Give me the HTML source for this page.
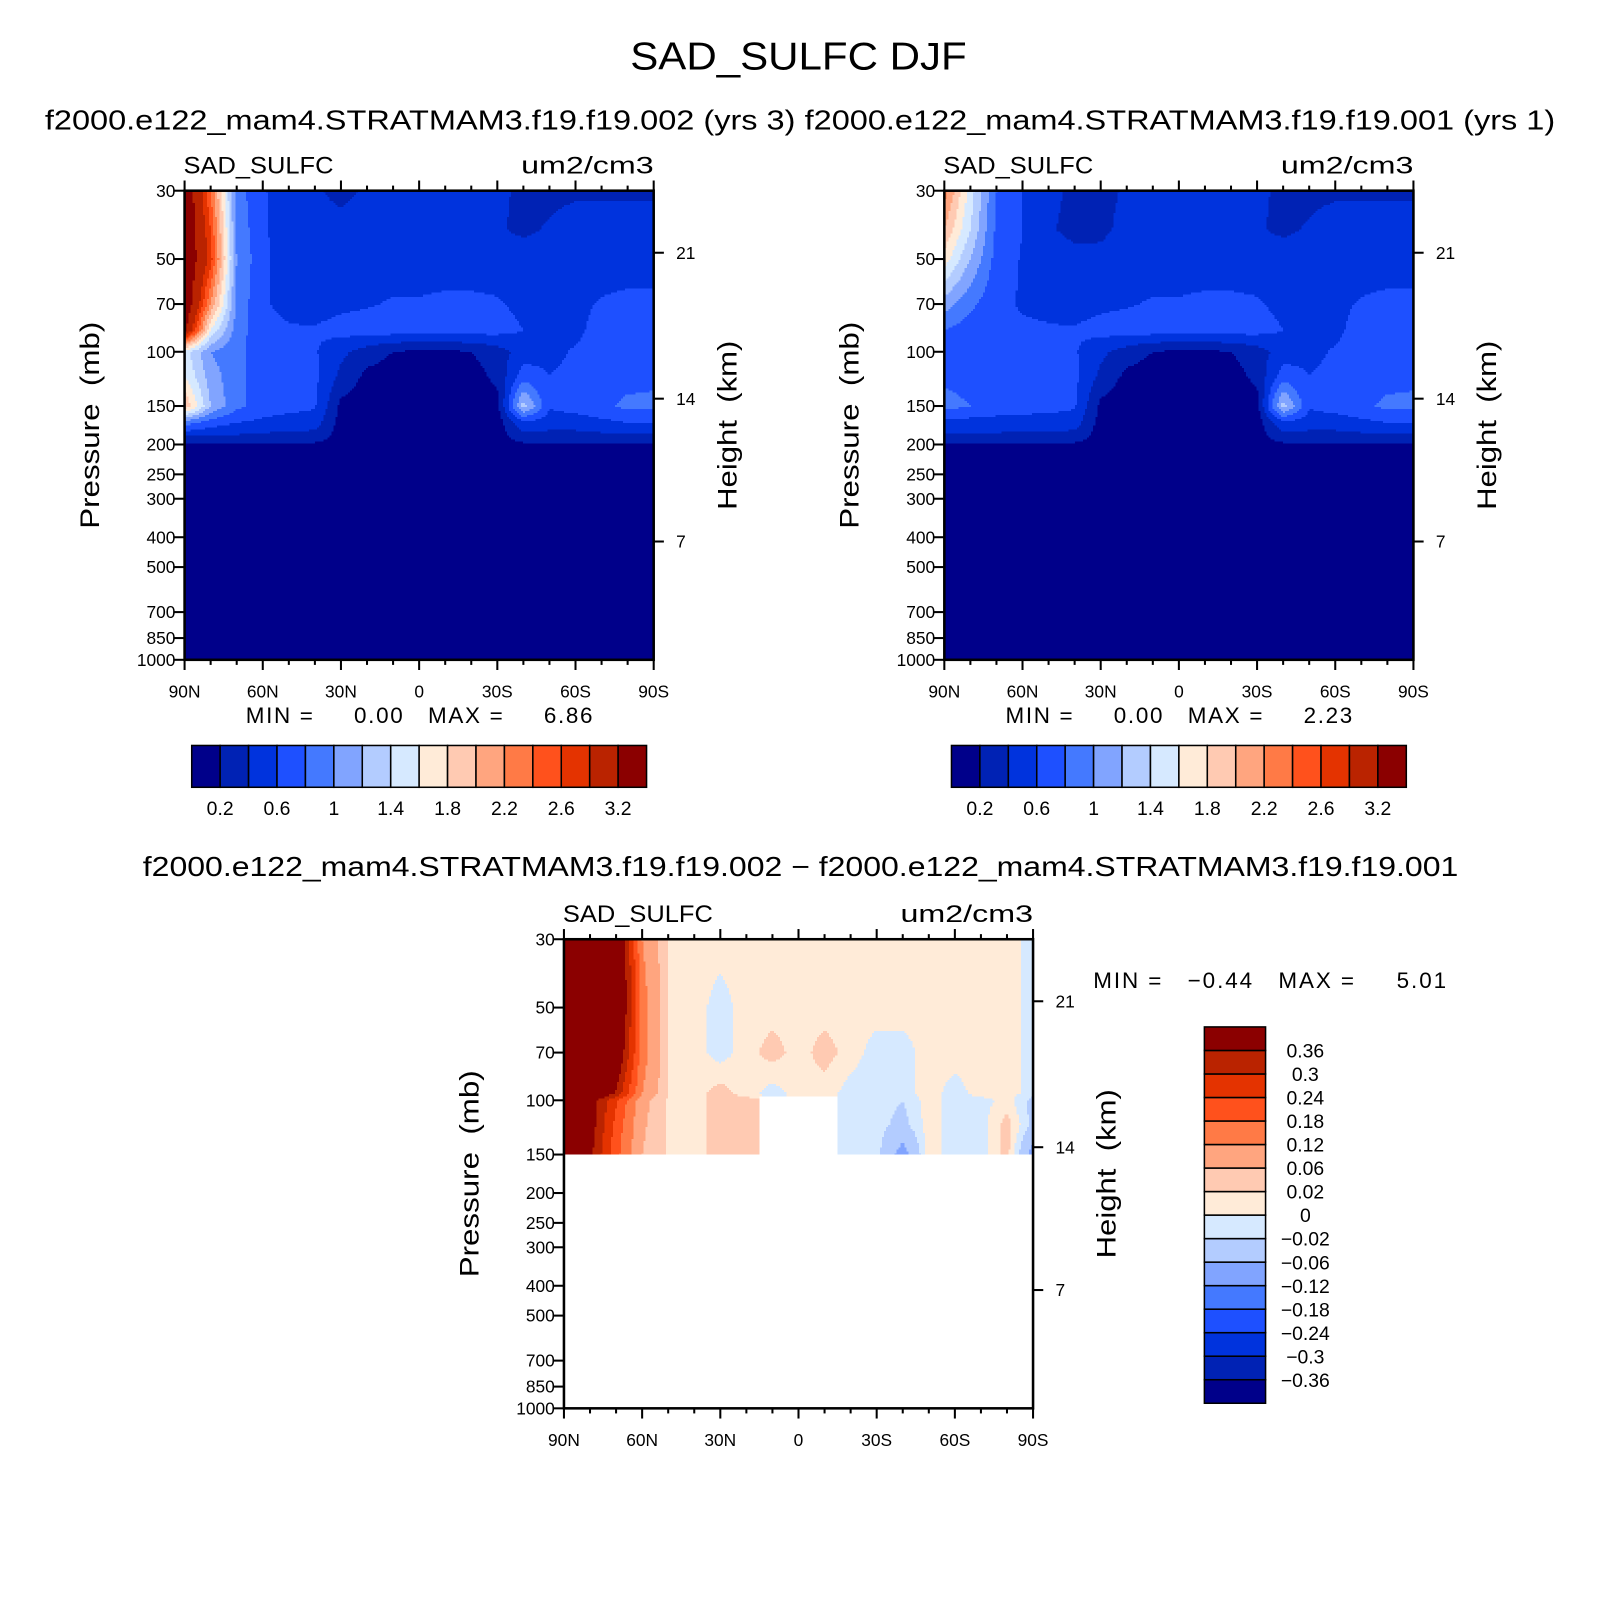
<!DOCTYPE html>
<html><head><meta charset="utf-8"><title>SAD_SULFC DJF</title>
<style>
html,body{margin:0;padding:0;background:#fff}
svg{display:block}
text{font-family:"Liberation Sans","DejaVu Sans",sans-serif;fill:#000;white-space:pre}
</style></head>
<body>
<svg id="fig" xmlns="http://www.w3.org/2000/svg" width="1597" height="1597" viewBox="0 0 1566 1566">
<rect width="1566" height="1566" fill="#fff"/>
<text x="783" y="68" font-size="38" text-anchor="middle" textLength="330" lengthAdjust="spacingAndGlyphs">SAD_SULFC DJF</text>
<text x="412" y="127" font-size="27" text-anchor="middle" textLength="736" lengthAdjust="spacingAndGlyphs">f2000.e122_mam4.STRATMAM3.f19.f19.002 (yrs 3)</text>
<text x="1157" y="127" font-size="27" text-anchor="middle" textLength="736" lengthAdjust="spacingAndGlyphs">f2000.e122_mam4.STRATMAM3.f19.f19.001 (yrs 1)</text>
<text x="785" y="859" font-size="27" text-anchor="middle" textLength="1290" lengthAdjust="spacingAndGlyphs">f2000.e122_mam4.STRATMAM3.f19.f19.002 − f2000.e122_mam4.STRATMAM3.f19.f19.001</text>
</svg>
<script>
// ---------- data ----------
const lats = [90,80,70,60,50,40,30,20,10,0,-10,-20,-30,-40,-50,-60,-70,-80,-90];
const levels = [30,40,50,70,85,100,120,150,170,190,205,1000];
const p1_30  = [3.6,2.4,0.9,0.62,0.5,0.42,0.36,0.42,0.5,0.5,0.5,0.5,0.45,0.35,0.35,0.36,0.36,0.36,0.36];
const p1_40  = [3.6,2.6,0.95,0.63,0.5,0.45,0.45,0.5,0.5,0.5,0.5,0.5,0.42,0.36,0.42,0.5,0.5,0.5,0.5];
const p1_50  = [3.6,2.7,1.0,0.64,0.5,0.5,0.5,0.5,0.5,0.5,0.5,0.5,0.5,0.5,0.5,0.5,0.5,0.5,0.5];
const p1_70  = [3.6,2.2,0.95,0.62,0.55,0.5,0.55,0.58,0.62,0.62,0.64,0.64,0.62,0.55,0.5,0.55,0.62,0.65,0.65];
const p1_85  = [3.3,1.6,0.9,0.65,0.62,0.62,0.68,0.7,0.7,0.7,0.7,0.7,0.68,0.6,0.55,0.55,0.68,0.7,0.7];
const p1_100 = [1.5,1.0,0.85,0.7,0.66,0.62,0.45,0.3,0.2,0.15,0.15,0.2,0.3,0.5,0.55,0.62,0.7,0.7,0.7];
const p1_120 = [1.6,1.1,0.85,0.72,0.7,0.65,0.35,0.15,0.1,0.08,0.08,0.12,0.25,0.7,0.6,0.65,0.7,0.72,0.75];
const p1_150 = [2.0,1.2,0.85,0.72,0.68,0.62,0.15,0.08,0.06,0.05,0.05,0.06,0.12,1.3,0.62,0.68,0.75,0.85,0.85];
const p1_170 = [0.9,0.7,0.6,0.55,0.5,0.5,0.12,0.06,0.05,0.05,0.05,0.05,0.1,0.55,0.5,0.5,0.55,0.6,0.6];
const p1_190 = [0.35,0.35,0.35,0.33,0.32,0.3,0.1,0.05,0.05,0.05,0.05,0.05,0.1,0.3,0.3,0.3,0.32,0.33,0.33];
const p1_205 = [0.1,0.1,0.1,0.1,0.1,0.1,0.08,0.05,0.05,0.05,0.05,0.05,0.08,0.1,0.1,0.1,0.1,0.1,0.1];
const p1_1000= [0.05,0.05,0.05,0.05,0.05,0.05,0.05,0.05,0.05,0.05,0.05,0.05,0.05,0.05,0.05,0.05,0.05,0.05,0.05];

const p2_30  = [2.3,1.5,0.8,0.6,0.45,0.36,0.35,0.42,0.5,0.5,0.5,0.5,0.45,0.35,0.35,0.36,0.36,0.36,0.36];
const p2_40  = [2.0,1.4,0.75,0.6,0.42,0.35,0.36,0.45,0.5,0.5,0.5,0.5,0.42,0.36,0.42,0.5,0.5,0.5,0.5];
const p2_50  = [1.7,1.2,0.72,0.58,0.5,0.45,0.45,0.5,0.5,0.5,0.5,0.5,0.5,0.5,0.5,0.5,0.5,0.5,0.5];
const p2_70  = [1.1,0.85,0.65,0.58,0.55,0.5,0.55,0.58,0.62,0.62,0.64,0.64,0.62,0.55,0.5,0.55,0.62,0.65,0.65];
const p2_85  = [0.8,0.7,0.64,0.63,0.62,0.62,0.68,0.7,0.7,0.7,0.7,0.7,0.68,0.6,0.55,0.55,0.68,0.7,0.7];
const p2_100 = [0.72,0.7,0.68,0.66,0.65,0.62,0.45,0.3,0.2,0.15,0.15,0.2,0.3,0.5,0.55,0.62,0.7,0.7,0.7];
const p2_120 = [0.75,0.72,0.7,0.7,0.7,0.65,0.35,0.15,0.1,0.08,0.08,0.12,0.25,0.7,0.6,0.65,0.7,0.72,0.75];
const p2_150 = [0.88,0.8,0.75,0.7,0.68,0.62,0.15,0.08,0.06,0.05,0.05,0.06,0.12,1.3,0.62,0.68,0.75,0.85,0.85];
const p2_170 = [0.55,0.52,0.5,0.5,0.5,0.5,0.12,0.06,0.05,0.05,0.05,0.05,0.1,0.55,0.5,0.5,0.55,0.6,0.6];

const dLevels = [30,50,70,95,100,120,150];
const d_30  = [0.5,0.5,0.5,0.12,0.02,0.01,0.01,0.01,0.01,0.01,0.01,0.01,0.01,0.01,0.01,0.01,0.01,0.01,-0.01];
const d_50  = [0.5,0.5,0.5,0.15,0.02,0.01,-0.01,0.01,0.01,0.01,0.01,0.01,0.01,0.01,0.01,0.01,0.01,0.01,-0.01];
const d_70  = [0.5,0.5,0.45,0.15,0.02,0.01,-0.01,0.01,0.03,0.01,0.03,0.01,-0.01,-0.01,0.01,0.01,0.01,0.01,-0.01];
const d_95  = [0.5,0.5,0.35,0.12,0.02,0.01,0.03,0.01,-0.01,0.01,0.01,-0.01,-0.01,-0.01,0.01,-0.01,0.01,0.01,-0.01];
const d_100 = [0.5,0.4,0.25,0.08,0.015,0.01,0.03,0.03,NaN,NaN,NaN,-0.01,-0.01,-0.02,0.01,-0.01,-0.01,0.01,-0.03];
const d_120 = [0.5,0.4,0.22,0.07,0.015,0.01,0.03,0.03,NaN,NaN,NaN,-0.01,-0.01,-0.03,0.01,-0.01,-0.01,0.03,-0.03];
const d_150 = [0.5,0.38,0.2,0.06,0.015,0.01,0.03,0.02,NaN,NaN,NaN,-0.01,-0.01,-0.08,0.01,-0.01,-0.01,0.03,-0.08];

const absBounds = [0.2,0.4,0.6,0.8,1.0,1.2,1.4,1.6,1.8,2.0,2.2,2.4,2.6,2.8,3.2];
const absLabels = ["0.2","0.6","1","1.4","1.8","2.2","2.6","3.2"];
const diffBounds = [-0.36,-0.3,-0.24,-0.18,-0.12,-0.06,-0.02,0,0.02,0.06,0.12,0.18,0.24,0.3,0.36];
const diffLabels = ["−0.36","−0.3","−0.24","−0.18","−0.12","−0.06","−0.02","0","0.02","0.06","0.12","0.18","0.24","0.3","0.36"];
const pTicks = [30,50,70,100,150,200,250,300,400,500,700,850,1000];
const heightTicks = [21,14,7];
const heightTickP = [47.7,142,413];
const latTicks = [90,60,30,0,-30,-60,-90];
const latTickLabels = ["90N","60N","30N","0","30S","60S","90S"];
const colors = ["#00008a","#0022b4","#0033dd","#1e50ff","#4479ff","#81a4ff","#b3ccff","#d6e9ff","#ffebd8","#ffcab2","#ffa57f","#ff7a46","#ff511c","#e43300","#ba2300","#8b0000"];

const grid1 = [p1_30,p1_40,p1_50,p1_70,p1_85,p1_100,p1_120,p1_150,p1_170,p1_190,p1_205,p1_1000];
const grid2 = [p2_30,p2_40,p2_50,p2_70,p2_85,p2_100,p2_120,p2_150,p2_170,p1_190,p1_205,p1_1000];
const gridD = [d_30,d_50,d_70,d_95,d_100,d_120,d_150];

// ---------- drawing ----------
const NS = "http://www.w3.org/2000/svg";
const svg = document.getElementById('fig');
function mk(tag, attrs, parent){ const e=document.createElementNS(NS,tag); for(const k in attrs) e.setAttribute(k,attrs[k]); (parent||svg).appendChild(e); return e; }
function classify(v,b){ let i=0; while(i<b.length && v>=b[i]) i++; return i; }

function panel(cfg){
  const g = mk('g',{});
  
  
  const L=cfg.x, T=cfg.y, W=460, H=460;
  const l0=Math.log10(30), l1=Math.log10(1000);
  const yOf = p => T + (Math.log10(p)-l0)/(l1-l0)*H;
  const xOf = lat => L + (90-lat)/180*W;
  const fg = mk('g',{'shape-rendering':'crispEdges'},g);
  
  
  const levs=cfg.levels, grid=cfg.grid, llog=levs.map(Math.log10);
  const pmax = levs[levs.length-1];
  const s=2;
  const yEnd = yOf(pmax);
  for(let py=T; py<yEnd; py+=s){
    const lp = l0 + (py+s/2-T)/H*(l1-l0);
    let k=0; while(k<llog.length-2 && lp>llog[k+1]) k++;
    let fy=(lp-llog[k])/(llog[k+1]-llog[k]); fy=Math.max(0,Math.min(1,fy));
    const nearRow = fy<0.5?k:k+1;
    let runStart=L, runC=null;
    const hgt = Math.min(s, yEnd-py);
    const flush=(xe)=>{ if(runC!==null && runC>=0){ const r=mk('rect',{x:runStart,y:py,width:xe-runStart,height:hgt,fill:colors[runC]},fg);
        
         } };
    for(let px=L; px<L+W; px+=s){
      const lat = 90-(px+s/2-L)/W*180;
      let fi=(90-lat)/10; let i=Math.min(17,Math.floor(fi)); let fx=fi-i;
      const nearCol = fx<0.5?i:i+1;
      let c;
      if(isNaN(grid[nearRow][nearCol])) c=-1;
      else {
        const a=grid[k][i],b=grid[k][i+1],cc=grid[k+1][i],d=grid[k+1][i+1];
        const vals=[a,b,cc,d].map(v=>isNaN(v)?grid[nearRow][nearCol]:v);
        const v=(vals[0]*(1-fx)+vals[1]*fx)*(1-fy)+(vals[2]*(1-fx)+vals[3]*fx)*fy;
        c=classify(v,cfg.bounds);
      }
      if(c!==runC){ flush(px); runStart=px; runC=c; }
    }
    flush(L+W);
  }
  const fr=mk('rect',{x:L,y:T,width:W,height:H,fill:'none',stroke:'#000','stroke-width':2.5},g);
  
  
  for(let lat=90; lat>=-90; lat-=10){
    const x=xOf(lat), major=(lat%30===0);
    const len=major?10:5;
    const t1=mk('line',{x1:x,x2:x,y1:T+H,y2:T+H+len,stroke:'#000','stroke-width':2},g);
    
    
    const t2=mk('line',{x1:x,x2:x,y1:T,y2:T-len,stroke:'#000','stroke-width':2},g);
    
    
  }
  latTicks.forEach((lat,i)=>{
    const t=mk('text',{x:xOf(lat),y:T+H+37,'font-size':17,'text-anchor':'middle'},g);
    t.textContent=latTickLabels[i];
    
    
  });
  pTicks.forEach(p=>{
    const y=yOf(p);
    const tl=mk('line',{x1:L-11,x2:L,y1:y,y2:y,stroke:'#000','stroke-width':2},g);
    
    
    const t=mk('text',{x:L-9,y:y+6,'font-size':17,'text-anchor':'end'},g);
    t.textContent=p;
    
    
  });
  heightTicks.forEach((z,i)=>{
    const y=yOf(heightTickP[i]);
    const tl=mk('line',{x1:L+W,x2:L+W+10,y1:y,y2:y,stroke:'#000','stroke-width':2},g);
    
    
    const t=mk('text',{x:L+W+22,y:y+6,'font-size':17},g);
    t.textContent=z;
    
    
  });
  const yl=mk('text',{x:0,y:0,'font-size':26,'text-anchor':'middle',textLength:203,lengthAdjust:'spacingAndGlyphs',transform:`translate(${L-84},${T+230}) rotate(-90)`},g);
  yl.textContent='Pressure  (mb)';
  
  
  const hl=mk('text',{x:0,y:0,'font-size':26,'text-anchor':'middle',textLength:166,lengthAdjust:'spacingAndGlyphs',transform:`translate(${L+W+81},${T+230}) rotate(-90)`},g);
  hl.textContent='Height  (km)';
  
  
  const vn=mk('text',{x:L-1,y:T-17,'font-size':24,textLength:147,lengthAdjust:'spacingAndGlyphs'},g);
  vn.textContent='SAD_SULFC';
  
  
  const un=mk('text',{x:L+W,y:T-17,'font-size':24,'text-anchor':'end',textLength:130,lengthAdjust:'spacingAndGlyphs'},g);
  un.textContent='um2/cm3';
  
  
  const mm=mk('text',{x:cfg.mmx,y:cfg.mmy,'font-size':22,textLength:cfg.mmw,lengthAdjust:'spacing'},g);
  mm.textContent=cfg.mm;
  
  
}

function hColorbar(x0,y0,name){
  const g=mk('g',{});
  
  
  const bw=446/16;
  colors.forEach((c,i)=>{
    const r=mk('rect',{x:x0+i*bw,y:y0,width:bw,height:41,fill:c,stroke:'#000','stroke-width':1.5},g);
    
    
  });
  absLabels.forEach((lab,j)=>{
    const t=mk('text',{x:x0+(2*j+1)*bw,y:y0+68,'font-size':19,'text-anchor':'middle'},g);
    t.textContent=lab;
    
    
  });
}

panel({name:'panel1',x:181,y:187,grid:grid1,levels:levels,bounds:absBounds,mm:'MIN =     0.00   MAX =     6.86',mmx:241,mmy:709,mmw:340});
panel({name:'panel2',x:926,y:187,grid:grid2,levels:levels,bounds:absBounds,mm:'MIN =     0.00   MAX =     2.23',mmx:986,mmy:709,mmw:340});
panel({name:'diff-panel',x:553,y:921,grid:gridD,levels:dLevels,bounds:diffBounds,mm:'MIN =   −0.44   MAX =     5.01',mmx:1072,mmy:969,mmw:346});
hColorbar(188,731,'panel1-colorbar');
hColorbar(933,731,'panel2-colorbar');

(function(){
  const g=mk('g',{});
  
  
  const x0=1181,y0=1007,bh=369/16;
  colors.forEach((c,i)=>{
    const r=mk('rect',{x:x0,y:y0+(15-i)*bh,width:60,height:bh,fill:c,stroke:'#000','stroke-width':1.5},g);
    
    
  });
  diffLabels.forEach((lab,k)=>{
    const t=mk('text',{x:1280,y:y0+(15-k)*bh+7,'font-size':19,'text-anchor':'middle'},g);
    t.textContent=lab;
    
    
  });
})();
</script>
</body></html>
